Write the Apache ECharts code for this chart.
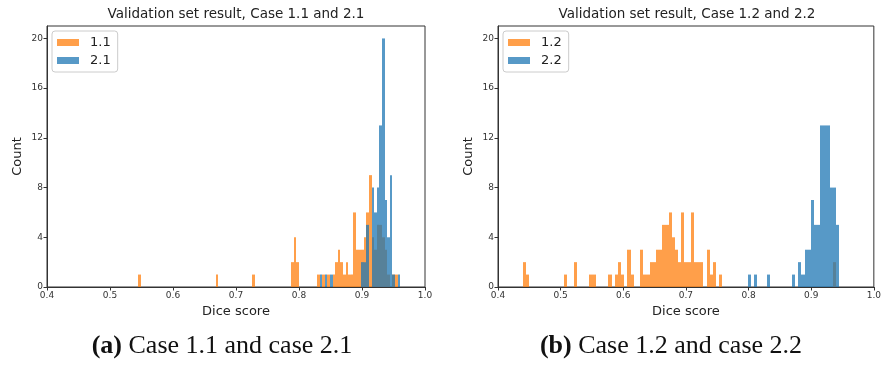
<!DOCTYPE html>
<html>
<head>
<meta charset="utf-8">
<script src="https://cdn.jsdelivr.net/npm/echarts@6/dist/echarts.min.js"></script>
<style>
html,body{margin:0;padding:0;background:#fff;}
#main{width:884px;height:376px;}
</style>
</head>
<body>
<div id="main"></div>
<script>
// histogram bins: left edge = lo + i*w (same bins for both series of a panel)
var binLoA = 0.5444, binWA = 0.00412;
var binLoB = 0.44, binWB = 0.00505;

// panel (a)
var binsA_11  = [0,30,44,59,60,61,69,71,73,75,76,77,78,79,80,81,82,83,84,85,86,87,88,89,90,91,92,93,94,95,96,98,99];
var countA_11 = [1,1,1,2,4,2,1,1,1,1,2,3,2,1,2,1,1,6,3,3,3,4,6,9,4,3,5,5,4,3,1,1,1];
var binsA_21  = [70,72,74,86,87,88,90,91,92,93,94,95,96,97,98,100];
var countA_21 = [1,1,1,2,2,5,8,6,8,13,20,7,4,9,1,1];

// panel (b)
var binsB_12  = [0,1,13,16,21,22,27,29,30,31,33,34,37,38,39,40,41,42,43,44,45,46,47,48,49,50,51,52,53,54,55,56,58,59,60,62,98];
var countB_12 = [2,1,1,2,1,1,1,1,2,1,3,1,3,1,1,2,2,3,3,5,5,6,4,3,2,6,2,2,6,2,2,2,3,1,2,1,2];
var binsB_22  = [71,73,77,85,87,88,89,90,91,92,93,94,95,96,97,98,99];
var countB_22 = [1,1,1,1,2,1,3,3,7,5,5,13,13,13,8,8,5];

var xTicks = [0.4,0.5,0.6,0.7,0.8,0.9,1.0];
var yTicks = [0,4,8,12,16,20];

var ORANGE = 'rgba(255,127,14,0.75)';
var BLUE = 'rgba(31,119,180,0.75)';
var FONT = 'DejaVu Sans';

function histData(bins, counts, lo, w){
  var out = [];
  for (var i=0;i<bins.length;i++){
    out.push([lo+bins[i]*w, lo+(bins[i]+1)*w, counts[i]]);
  }
  return out;
}

function renderBar(params, api){
  var p0 = api.coord([api.value(0), api.value(2)]);
  var p1 = api.coord([api.value(1), 0]);
  var x0 = Math.round(p0[0]), x1 = Math.round(p1[0]);
  return {
    type:'rect',
    shape:{x:x0, y:p0[1], width:Math.max(1, x1-x0), height:p1[1]-p0[1]},
    style:{fill: api.visual('color')}
  };
}

function histSeries(name, idx, data, color){
  return {
    name:name, type:'custom', xAxisIndex:idx, yAxisIndex:idx,
    renderItem: renderBar, data:data,
    encode:{x:[0,1], y:2},
    itemStyle:{color:color},
    animation:false
  };
}

function xAxisOpt(idx){
  return {
    gridIndex:idx, type:'value', min:0.4, max:1.0, interval:0.1,
    name:'Dice score', nameLocation:'middle', nameGap:18,
    nameTextStyle:{fontSize:13, color:'#222', fontFamily:FONT},
    axisLine:{onZero:false, lineStyle:{color:'#333', width:1}},
    axisTick:{show:true, length:3.5, lineStyle:{color:'#333'}},
    axisLabel:{fontSize:9, color:'#333', fontFamily:FONT, margin:4,
      formatter:function(v){ return xTicks.indexOf(Math.round(v*10)/10) >= 0 ? v.toFixed(1) : ''; }},
    splitLine:{show:false}
  };
}

function yAxisOpt(idx){
  return {
    gridIndex:idx, type:'value', min:0, max:21, interval:4,
    name:'Count', nameLocation:'middle', nameGap:23,
    nameTextStyle:{fontSize:13, color:'#222', fontFamily:FONT},
    axisLine:{show:true, lineStyle:{color:'#333', width:1}},
    axisTick:{show:true, length:3.5, lineStyle:{color:'#333'}},
    axisLabel:{fontSize:9, color:'#333', fontFamily:FONT, margin:4, showMaxLabel:false,
      formatter:function(v){ return yTicks.indexOf(v) >= 0 ? String(v) : ''; }},
    splitLine:{show:false}
  };
}

function legendOpt(x, names){
  return {
    data:names, orient:'vertical', left:x, top:31,
    itemWidth:22, itemHeight:7, itemGap:5, icon:'rect',
    padding:[5,7,5,5],
    borderColor:'#ccc', borderWidth:1, borderRadius:3,
    backgroundColor:'rgba(255,255,255,0.8)',
    selectedMode:false,
    textStyle:{fontSize:13, color:'#222', fontFamily:FONT, padding:[0,0,0,6]}
  };
}

var myChart = echarts.init(document.getElementById('main'));
var option = {
  backgroundColor:'#fff',
  animation:false,
  title:[
    {text:'Validation set result, Case 1.1 and 2.1', left:236, top:7, textAlign:'center', padding:0,
     textStyle:{fontSize:13.5, fontWeight:'normal', color:'#222', fontFamily:FONT}},
    {text:'Validation set result, Case 1.2 and 2.2', left:687, top:7, textAlign:'center', padding:0,
     textStyle:{fontSize:13.5, fontWeight:'normal', color:'#222', fontFamily:FONT}}
  ],
  legend:[ legendOpt(52, ['1.1','2.1']), legendOpt(503, ['1.2','2.2']) ],
  grid:[
    {left:47, top:26, width:378, height:261, show:true, borderColor:'#333', borderWidth:1, backgroundColor:'transparent'},
    {left:498, top:26, width:379, height:261, show:true, borderColor:'#333', borderWidth:1, backgroundColor:'transparent'}
  ],
  xAxis:[ xAxisOpt(0), xAxisOpt(1) ],
  yAxis:[ yAxisOpt(0), yAxisOpt(1) ],
  series:[
    histSeries('1.1', 0, histData(binsA_11, countA_11, binLoA, binWA), ORANGE),
    histSeries('2.1', 0, histData(binsA_21, countA_21, binLoA, binWA), BLUE),
    histSeries('1.2', 1, histData(binsB_12, countB_12, binLoB, binWB), ORANGE),
    histSeries('2.2', 1, histData(binsB_22, countB_22, binLoB, binWB), BLUE)
  ],
  graphic:[
    {type:'text', x:222, y:346, style:{text:'{b|(a)} Case 1.1 and case 2.1', align:'center', verticalAlign:'middle',
      fontSize:26, fontFamily:'Liberation Serif', fill:'#111',
      rich:{b:{fontWeight:'bold', fontSize:26, fontFamily:'Liberation Serif'}}}},
    {type:'text', x:671, y:346, style:{text:'{b|(b)} Case 1.2 and case 2.2', align:'center', verticalAlign:'middle',
      fontSize:26, fontFamily:'Liberation Serif', fill:'#111',
      rich:{b:{fontWeight:'bold', fontSize:26, fontFamily:'Liberation Serif'}}}}
  ]
};
myChart.setOption(option);
</script>
</body>
</html>
